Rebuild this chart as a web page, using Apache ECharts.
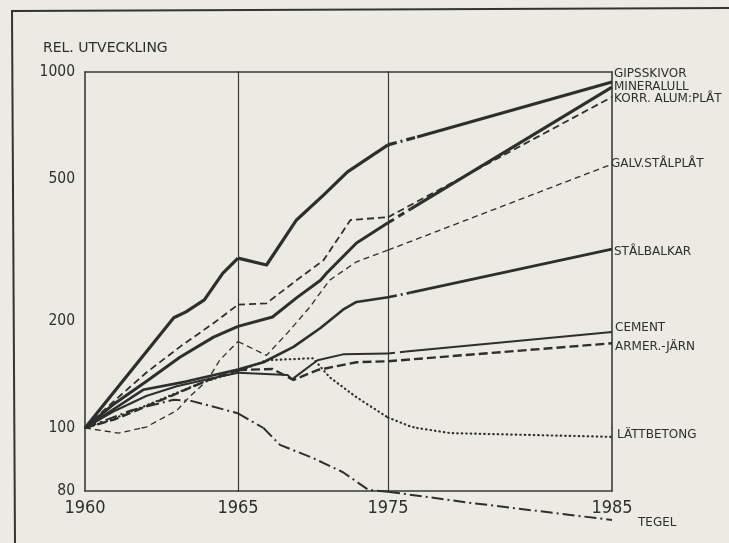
<!DOCTYPE html>
<html><head><meta charset="utf-8">
<script src="https://cdn.jsdelivr.net/npm/echarts@6/dist/echarts.min.js"></script>
<style>html,body{margin:0;padding:0;background:#ebebe3}#c{width:729px;height:543px}</style>
</head><body><div id="c"></div>
<script>
// ---- data (year, relative index, 1960 = 100) ----
const xTickLabels = [1960, 1965, 1975, 1985];
const yTickLabels = [80, 100, 200, 500, 1000];

const gipsskivor = [[1960,100],[1962.9,204],[1963.3,212],[1963.9,229],[1964.5,272],[1965,300],[1966.9,287],[1968.9,384],[1970.7,451],[1972.3,524],[1975,624],[1976.3,657],[1985,937]];
const mineralull = [[1960,100],[1960.9,116],[1962,135],[1963.1,158],[1964.2,180],[1965,193],[1967.3,205],[1968.9,232],[1970.5,260],[1970.9,272],[1972.9,331],[1975,377],[1976,412],[1985,907]];
const korrAlumPlat = [[1960,100],[1960.9,118],[1962,143],[1963.1,169],[1964.2,197],[1965,222],[1966.9,224],[1968.9,260],[1970.7,296],[1972.5,384],[1975,391],[1985,851]];
const galvStalplat = [[1960,100],[1961.1,98.2],[1961.85,100],[1962,100.6],[1963,112],[1963.4,122],[1964,136],[1964.4,155],[1965,175],[1966.9,160],[1968.3,185],[1969.8,219],[1971.1,260],[1972.9,293],[1975,316],[1985,551]];
const stalbalkar = [[1960,100],[1961.9,128],[1963.3,135],[1965,146],[1966.7,153],[1968.7,169],[1970.5,191],[1972,215],[1972.9,226],[1975,233],[1976,240],[1985,318]];
const cement = [[1960,100],[1961,112],[1962,123],[1963,131],[1964,137],[1965,143],[1968.3,141],[1968.6,137],[1970.3,155],[1972,161],[1975,162],[1975.8,164],[1985,186]];
const armerJarn = [[1960,100],[1961,106],[1962,115],[1963,125],[1964,136],[1965,145.5],[1967.3,146.5],[1968.7,136.4],[1970.3,145.5],[1972.9,153],[1975,154],[1985,173]];
const lattbetong = [[1960,100],[1960.8,105],[1962.45,120],[1963.8,134],[1965,144],[1966.9,155],[1970,157],[1971.1,139],[1972.9,122],[1975,107],[1976,101],[1976.3,100],[1977.8,98.2],[1985,96.9]];
const tegel = [[1960,100],[1961.5,112],[1962.9,120],[1963.5,119],[1965,110],[1966.7,100],[1967.8,94.2],[1970,89.9],[1972,85.5],[1973.7,80.3],[1975,79.8],[1978.7,76.7],[1985,72.2]];

const seriesNames = ['GIPSSKIVOR','MINERALULL','KORR. ALUM:PLÅT','GALV.STÅLPLÅT','STÅLBALKAR','CEMENT','ARMER.-JÄRN','LÄTTBETONG','TEGEL'];
const seriesData = [gipsskivor, mineralull, korrAlumPlat, galvStalplat, stalbalkar, cement, armerJarn, lattbetong, tegel];
// year until which the line after 1975 is drawn as a broken transition
const bridgeUntil = [1976.3, 1976, null, null, 1976, 1975.8, null, null, null];

// ---- styles ----
const INK = '#2e2e2e';
const styles = [
  {width:3.2, type:'solid', bridge:[9,4,2,4]},
  {width:3.0, type:'solid', bridge:[7,5]},
  {width:1.8, type:[7,4]},
  {width:1.3, type:[6,4]},
  {width:2.6, type:'solid', bridge:[9,4,2,4]},
  {width:2.0, type:'solid', bridge:[7,5]},
  {width:2.4, type:[9,4]},
  {width:2.2, type:[0.5,4], cap:'round'},
  {width:2.0, type:[12,4,2,4]}
];

// x pieces (the drawn time axis is not uniform) and y bands (80 is placed below 100)
const pieces = [{min:1960,max:1965,left:85,width:153},{min:1965,max:1975,left:238,width:150},{min:1975,max:1985,left:388,width:224}];
const bands = [{lo:100,hi:1000,top:72,height:356},{lo:80,hi:100,top:428,height:63}];

const grid = [], xAxis = [], yAxis = [], series = [];
const axisLineStyle = {color:'#3a3a3a', width:1.6};
bands.forEach((b, bi) => {
  pieces.forEach((p, pi) => {
    const g = grid.length;
    grid.push({left:p.left, top:b.top, width:p.width, height:b.height, containLabel:false});
    const xl = xTickLabels.filter(v => (v > p.min && v <= p.max) || (pi === 0 && v === p.min));
    xAxis.push({
      gridIndex:g, type:'value', min:p.min, max:p.max, position: bi === 0 ? 'top' : 'bottom',
      axisLine:{show:true, onZero:false, lineStyle:axisLineStyle},
      axisTick:{show:false}, splitLine:{show:false},
      axisLabel: bi === 1 ? {show:true, customValues:xl, showMinLabel:true, showMaxLabel:true,
        color:INK, fontFamily:'DejaVu Sans Condensed', fontSize:18, margin:8,
        formatter: v => String(v)} : {show:false}
    });
    const yl = yTickLabels.filter(v => v >= b.lo && v <= b.hi && !(bi === 1 && v === 100));
    yAxis.push({
      gridIndex:g, type:'log', logBase:10, min:b.lo, max:b.hi, position:'left',
      axisLine:{show:true, onZero:false, lineStyle: pi === 0 ? axisLineStyle : {color:'#3a3a3a', width:1.2}},
      axisTick:{show:false}, splitLine:{show:false},
      axisLabel: pi === 0 ? {show:true, customValues:yl, showMinLabel:true, showMaxLabel:true,
        color:INK, fontFamily:'DejaVu Sans Condensed', fontSize:15.5, margin:10,
        formatter: v => String(Math.round(v))} : {show:false}
    });
    if (pi === 2) {
      yAxis.push({gridIndex:g, type:'log', logBase:10, min:b.lo, max:b.hi, position:'right',
        axisLine:{show:true, onZero:false, lineStyle:axisLineStyle}, axisTick:{show:false},
        splitLine:{show:false}, axisLabel:{show:false}});
    }
    const yIdx = yAxis.length - (pi === 2 ? 2 : 1);
    seriesData.forEach((pts, si) => {
      const st = styles[si];
      const inBand = v => bi === 0 ? v >= 100 : v <= 100;
      // contiguous runs of points inside this piece and band
      let runs = [], cur = [];
      pts.forEach(([x, v]) => {
        if (x >= p.min && x <= p.max && inBand(v)) cur.push([x, v]);
        else { if (cur.length) runs.push(cur); cur = []; }
      });
      if (cur.length) runs.push(cur);
      runs.forEach(run => {
        const parts = [];
        const be = bridgeUntil[si];
        if (pi === 2 && be != null && st.bridge) {
          parts.push({d: run.filter(q => q[0] <= be), type: st.bridge});
          parts.push({d: run.filter(q => q[0] >= be), type: st.type});
        } else parts.push({d: run, type: st.type});
        parts.forEach(part => {
          if (part.d.length < 2) return;
          series.push({
            name: seriesNames[si], type:'line', xAxisIndex:g, yAxisIndex:yIdx,
            data: part.d, showSymbol:false, symbol:'none', clip:false, silent:true,
            animation:false,
            lineStyle:{color:INK, width:st.width, type:part.type, cap:st.cap || 'butt', join:'round'}
          });
        });
      });
    });
  });
});

const lab = (text, x, y, size, fam) => ({type:'text', x, y, style:{text, fill:INK,
  font: (size || 12) + 'px "' + (fam || 'DejaVu Sans') + '"', textVerticalAlign:'middle', textAlign:'left'}});

const option = {
  backgroundColor:'#ebebe3',
  animation:false,
  grid, xAxis, yAxis, series,
  graphic:[
    {type:'polyline', shape:{points:[[729,8],[12,11],[15,543]]}, style:{stroke:'#333', lineWidth:2, fill:null}},
    lab('REL. UTVECKLING', 43, 48, 14),
    lab(seriesNames[0], 614, 74),
    lab(seriesNames[1], 614, 87),
    lab(seriesNames[2], 614, 99),
    lab(seriesNames[3], 611, 164),
    lab(seriesNames[4], 614, 252),
    lab(seriesNames[5], 615, 328),
    lab(seriesNames[6], 615, 347),
    lab(seriesNames[7], 617, 435),
    lab(seriesNames[8], 638, 523)
  ]
};
echarts.init(document.getElementById('c'), null, {renderer:'canvas'}).setOption(option);
</script></body></html>
